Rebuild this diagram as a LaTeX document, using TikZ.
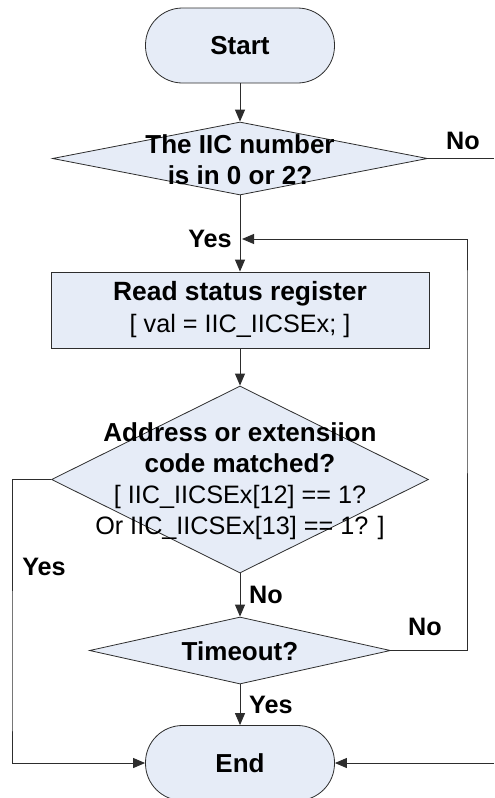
\documentclass[tikz,border=0pt]{standalone}
\usepackage{fontspec}
\setmainfont{Liberation Sans}
\usetikzlibrary{arrows.meta,shapes.geometric}
\definecolor{boxfill}{RGB}{230,236,247}
\definecolor{boxline}{RGB}{45,45,45}

\begin{document}
\begin{tikzpicture}[x=0.5pt,y=-0.5pt]
  \tikzstyle{term}=[draw=boxline,fill=boxfill,rounded corners=18.5pt,
    minimum width=94.5pt,minimum height=37.5pt,inner sep=0pt,font=\fontsize{13}{15.75}\selectfont\bfseries]
  \tikzstyle{proc}=[draw=boxline,fill=boxfill,minimum width=189pt,minimum height=38pt,
    inner sep=0pt,align=center,font=\fontsize{13.2}{16}\selectfont\bfseries]
  \tikzstyle{dec}=[draw=boxline,fill=boxfill,diamond,inner sep=0pt]
  \tikzstyle{dectext}=[align=center,font=\fontsize{13}{15.5}\selectfont\bfseries]
  \tikzstyle{lab}=[text=black,font=\fontsize{12.6}{15}\selectfont\bfseries]
  \tikzstyle{f}=[-{Triangle[length=6pt,width=5pt]},boxline,line width=0.5pt]
  \tikzstyle{l}=[boxline,line width=0.5pt]
  \newcommand{\code}[1]{{\fontsize{12.6}{15.5}\selectfont\mdseries #1}}

  \useasboundingbox (0,0) rectangle (494,798);

  \node[term] (start) at (240,45.5) {Start};
  \node[dec,minimum width=187.5pt,minimum height=36.5pt] (numchk) at (240,158.5) {};
  \node[dectext] (numtxt) at (240,159.5) {The IIC number\\is in 0 or 2?};
  \node[proc] (read) at (240,310) {Read status register\\\code{[ val = IIC\_IICSEx; ]}};
  \node[dec,minimum width=188.5pt,minimum height=93.5pt] (match) at (240,479.5) {};
  \node[dectext] (matchtxt) at (240,481)
    {Address or extensiion\\code matched?\\\code{[ IIC\_IICSEx[12] == 1?}\\\code{Or IIC\_IICSEx[13] == 1? ]}};
  \node[dec,minimum width=150.5pt,minimum height=33.5pt] (tmo) at (240,650.5) {};
  \node[dectext] (tmotxt) at (240,651) {Timeout?};
  \node[term] (end) at (240,763) {End};

  \coordinate (join) at (240,239);
  \coordinate (noout) at (494,158.5);
  \coordinate (noin) at (494,763);

  \draw[f] (start) -- (numchk);
  \draw[l] (numchk) -- (join);
  \draw[f] (join) -- (read);
  \draw[f] (read) -- (match);
  \draw[f] (match) -- node[lab,right=1pt] {No} (tmo);
  \draw[f] (tmo) -- node[lab,right=1pt] {Yes} (end);
  \draw[f] (match.west) -| (12,700) |- (end.west);
  \draw[f] (tmo.east) -| (467,300) |- ([xshift=1pt]join);
  \draw[l] (numchk.east) -- (noout);
  \draw[f] (noin) -- (end.east);

  \node[lab] (yes1) at (210,239) {Yes};
  \node[lab] (yes2) at (44,567) {Yes};
  \node[lab] (no1) at (463,141) {No};
  \node[lab] (no2) at (425,627) {No};
\end{tikzpicture}
\end{document}
